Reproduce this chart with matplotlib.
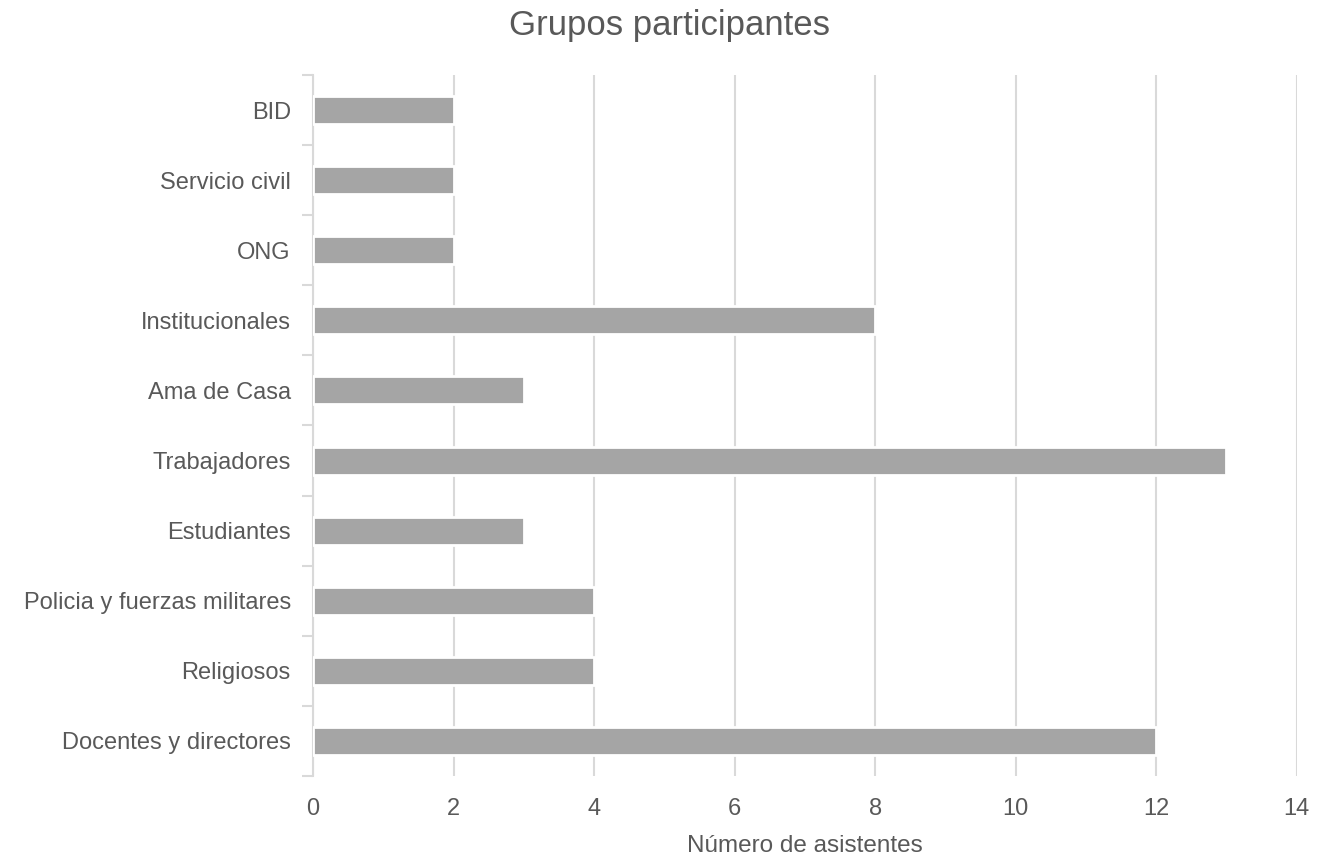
import matplotlib
matplotlib.use("Agg")
import matplotlib.pyplot as plt
import numpy as np

categories = ["Docentes y directores", "Religiosos", "Policia y fuerzas militares",
              "Estudiantes", "Trabajadores", "Ama de Casa", "Institucionales",
              "ONG", "Servicio civil", "BID"]
values = [12, 4, 4, 3, 13, 3, 8, 2, 2, 2]
xticks = [0, 2, 4, 6, 8, 10, 12, 14]

plt.rcParams['font.family'] = ['Liberation Sans', 'DejaVu Sans']
txt = '#595959'
grid = '#d9d9d9'

fig = plt.figure(figsize=(13.39, 8.6), dpi=100)
ax = fig.add_axes([313/1339, 1-776/860, (1296.7-313)/1339, (776-75)/860])

y = np.arange(len(categories))
ax.barh(y, values, height=0.4, color='#a5a5a5', edgecolor='white', linewidth=2.0, zorder=3)

ax.set_xlim(0, 14)
ax.set_ylim(-0.5, len(categories) - 0.5)
ax.set_xticks(xticks)
ax.set_xticklabels([str(t) for t in xticks])
ax.set_yticks(y)
ax.set_yticklabels(categories)
ax.set_yticks(np.arange(-0.5, len(categories)), minor=True)

ax.tick_params(axis='x', length=0, pad=16, labelsize=17, labelcolor=txt)
ax.tick_params(axis='y', which='major', length=0, pad=16, labelsize=17, labelcolor=txt)
ax.tick_params(axis='y', which='minor', length=8, width=1.5, color=grid, direction='out')

for s in ['top', 'right', 'bottom']:
    ax.spines[s].set_visible(False)
ax.spines['left'].set_color(grid)
ax.spines['left'].set_linewidth(1.5)

ax.grid(axis='x', color=grid, linewidth=1.5, zorder=0)
ax.set_axisbelow(True)

ax.set_xlabel('Número de asistentes', fontsize=17.5, color=txt, labelpad=11)
fig.suptitle('Grupos participantes', fontsize=25, color=txt, y=0.99)

fig.savefig('out.png', dpi=100)
